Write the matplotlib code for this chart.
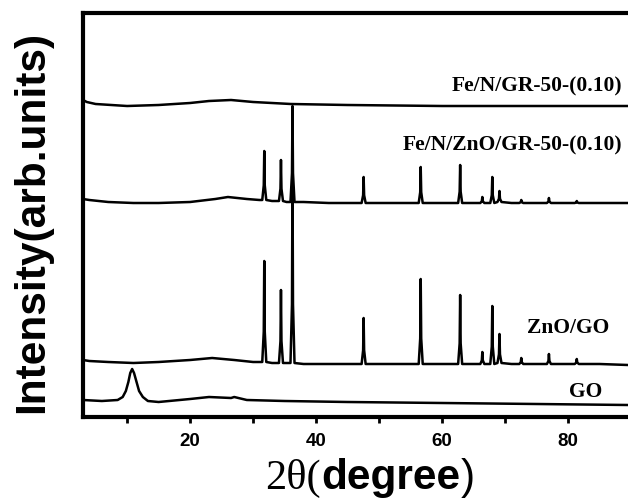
import numpy as np
import matplotlib
matplotlib.use("Agg")
import matplotlib.pyplot as plt

# ---- data (2theta in degrees, intensity in arb. units) ----
zno_peaks = [31.77, 34.42, 36.25, 47.54, 56.60, 62.86, 66.38, 67.96, 69.10, 72.56, 76.95, 81.37]

# Fe/N/GR-50-(0.10): amorphous, no sharp peaks
fegr_x = [3.0, 3.6, 5.0, 10.0, 15.0, 20.0, 23.0, 26.5, 30.0, 36.0, 45.0, 60.0, 75.0, 89.5]
fegr_y = [317, 315, 313, 311, 312, 314, 316, 317, 315, 313, 312, 311, 311, 311]

# Fe/N/ZnO/GR-50-(0.10)
feznogr_bg_x = [3.0, 4.0, 7.0, 11.0, 15.0, 20.0, 24.0, 26.0, 29.0, 31.0, 33.0, 35.3,
                38.0, 42.0, 46.0, 50.0, 54.0, 60.0, 65.0, 71.0, 75.0, 79.0, 85.0, 89.5]
feznogr_bg_y = [218, 217, 215, 214, 214, 215, 218, 220, 218, 217, 216, 215,
                215, 214, 214, 214, 214, 214, 214, 214, 214, 214, 214, 214]
feznogr_top = [266, 257, 311, 240, 250, 252, 220, 240, 226, 217, 219, 216]
feznogr_base = [217, 216, 215, 214, 214, 214, 214, 214, 215, 214, 214, 214]

# ZnO/GO
znogo_bg_x = [3.0, 4.0, 7.0, 11.0, 15.0, 20.0, 23.5, 27.0, 30.0, 31.0, 33.0, 35.3,
              38.0, 42.0, 46.0, 50.0, 54.0, 60.0, 65.0, 71.0, 75.0, 79.0, 85.0, 89.5]
znogo_bg_y = [57, 56, 55, 54, 55, 57, 59, 57, 55, 55, 54, 54,
              53, 53, 53, 53, 53, 53, 53, 53, 53, 53, 53, 52]
znogo_top = [156, 127, 250, 99, 138, 122, 65, 111, 83, 59, 63, 58]
znogo_base = [55, 54, 54, 53, 53, 53, 53, 53, 54, 53, 53, 53]

# GO: broad (001) reflection near 10.8 deg
go_x = [3.0, 6.0, 8.5, 9.3, 9.8, 10.2, 10.5, 10.8, 11.1, 11.5, 11.9, 12.5, 13.3,
        15.0, 20.0, 23.0, 26.5, 27.0, 29.0, 35.0, 45.0, 60.0, 75.0, 89.5]
go_y = [17, 16, 17, 20, 26, 35, 44, 48, 44, 35, 26, 20, 16,
        15, 18, 20, 19, 20, 17, 16, 15, 14, 13, 12]

labels = ["Fe/N/GR-50-(0.10)", "Fe/N/ZnO/GR-50-(0.10)", "ZnO/GO", "GO"]


def with_peaks(bg_x, bg_y, tops, bases, hw=0.32):
    # merge background points with a narrow spike per reflection
    pts = list(zip(bg_x, bg_y))
    for p, t, b in zip(zno_peaks, tops, bases):
        pts += [(p - hw, b), (p - 0.08, b + 0.3 * (t - b)), (p, t),
                (p + 0.08, b + 0.3 * (t - b)), (p + hw, b)]
    pts.sort()
    arr = np.array(pts)
    return arr[:, 0], arr[:, 1]


fig = plt.figure(figsize=(6.28, 5.01), dpi=100)
W, H = 628, 501
ax = fig.add_axes([83 / W, (H - 417) / H, (W - 83) / W + 0.01, 404 / H])

lw = 1.8
ax.plot(fegr_x, fegr_y, color="black", lw=lw)
x, y = with_peaks(feznogr_bg_x, feznogr_bg_y, feznogr_top, feznogr_base)
ax.plot(x, y, color="black", lw=lw)
x, y = with_peaks(znogo_bg_x, znogo_bg_y, znogo_top, znogo_base)
ax.plot(x, y, color="black", lw=lw)
ax.plot(go_x, go_y, color="black", lw=lw)

ax.set_xlim(3.0, 89.5 + 0.01 * W / 6.3)
ax.set_ylim(0, 404)

# curve labels
lab_font = dict(family="Liberation Serif", weight="bold", fontsize=15.5)
ax.text(88.6, 331, labels[0], ha="right", va="center", **lab_font)
ax.text(88.6, 272, labels[1], ha="right", va="center", **lab_font)
ax.text(80.0, 89, labels[2], ha="center", va="center", **lab_font)
ax.text(82.7, 25, labels[3], ha="center", va="center", **lab_font)

# axes styling
for side in ["left", "top", "bottom"]:
    ax.spines[side].set_linewidth(3)
ax.spines["right"].set_visible(False)
ax.set_yticks([])
ax.set_xticks([20, 40, 60, 80])
ax.set_xticks([10, 30, 50, 70], minor=True)
ax.tick_params(axis="x", which="both", direction="out", length=4.5, width=2, pad=7)
for t in ax.get_xticklabels():
    t.set_fontfamily("Liberation Sans")
    t.set_fontweight("bold")
    t.set_fontsize(13.5)

# y label
fig.text(32 / W, (H - 222) / H, "Intensity(arb.units)", rotation=90,
         ha="center", va="center", family="Liberation Sans", weight="bold", fontsize=30.5)

# x label with mixed fonts: 2θ( in serif, degree in bold sans, ) in sans
renderer = fig.canvas.get_renderer()
yb = (H - 489) / H
parts = [("2θ(", dict(family="Liberation Serif", fontsize=30.5)),
         ("degree", dict(family="Liberation Sans", weight="bold", fontsize=30.5)),
         (")", dict(family="Liberation Sans", fontsize=30.5))]
texts = []
xpos = 0.0
for s, kw in parts:
    t = fig.text(xpos, yb, s, ha="left", va="baseline", **kw)
    bb = t.get_window_extent(renderer)
    texts.append(t)
    xpos = bb.x1 / W
total = xpos
shift = 370 / W - total / 2
for t in texts:
    px, py = t.get_position()
    t.set_position((px + shift, py))

fig.savefig("out.png", dpi=100)
